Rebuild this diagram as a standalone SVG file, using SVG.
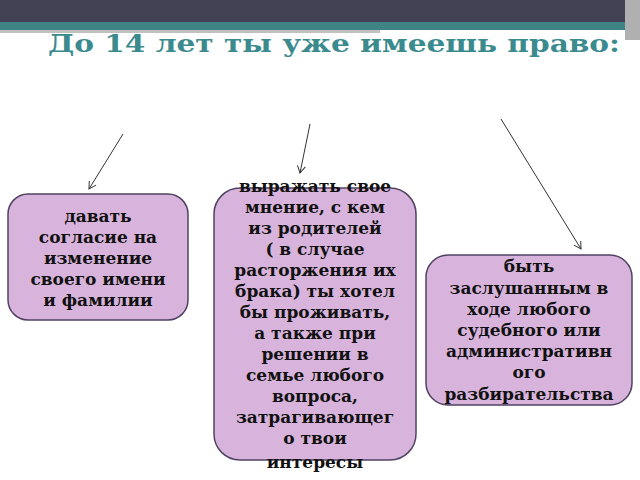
<svg xmlns="http://www.w3.org/2000/svg" width="640" height="480" viewBox="0 0 640 480">
<defs>
<style>
.box{fill:#d8b4dc;stroke:#4f4263;stroke-width:1.5}
.t{font-family:"DejaVu Serif","Liberation Serif",serif;font-weight:bold;font-size:17px;fill:#111;text-anchor:middle}
.c{stroke:#333;stroke-width:1;fill:none}
</style>
<marker id="a" markerWidth="10" markerHeight="10" refX="8" refY="5" orient="auto" markerUnits="userSpaceOnUse"><path d="M1,1 L8,5 L1,9" fill="none" stroke="#333" stroke-width="1"/></marker>
</defs>
<rect width="640" height="480" fill="#fff"/>
<rect x="0" y="0" width="640" height="22" fill="#434255"/>
<rect x="0" y="22" width="640" height="8" fill="#3f8485"/>
<rect x="0" y="30" width="380" height="3" fill="#c0c0c0"/>
<rect x="625" y="0" width="15" height="40" fill="#b0b0b0"/>
<text x="48" y="52" font-family="'DejaVu Serif','Liberation Serif',serif" font-weight="bold" font-size="25" fill="#3a8a8e" textLength="572" lengthAdjust="spacingAndGlyphs">До 14 лет ты  уже имеешь право:</text>
<g id="connectors">
<line class="c" x1="123" y1="134" x2="89" y2="189" marker-end="url(#a)"/>
<line class="c" x1="310" y1="124" x2="300" y2="173" marker-end="url(#a)"/>
<line class="c" x1="501" y1="119" x2="581" y2="249" marker-end="url(#a)"/>
</g>
<g id="n1">
<rect class="box" x="8" y="194" width="180" height="126" rx="20"/>
<text class="t" x="98" y="222">давать</text>
<text class="t" x="98" y="243">согласие на</text>
<text class="t" x="98" y="264">изменение</text>
<text class="t" x="98" y="285">своего имени</text>
<text class="t" x="98" y="306">и фамилии</text>
</g>
<g id="n2">
<rect class="box" x="214" y="188" width="202" height="272" rx="26"/>
<text class="t" x="315" y="192">выражать свое</text>
<text class="t" x="315" y="213">мнение, с кем</text>
<text class="t" x="315" y="234">из родителей</text>
<text class="t" x="315" y="255">( в случае</text>
<text class="t" x="315" y="276">расторжения их</text>
<text class="t" x="315" y="297">брака) ты хотел</text>
<text class="t" x="315" y="318">бы проживать,</text>
<text class="t" x="315" y="339">а также при</text>
<text class="t" x="315" y="360">решении в</text>
<text class="t" x="315" y="381">семье любого</text>
<text class="t" x="315" y="402">вопроса,</text>
<text class="t" x="315" y="423">затрагивающег</text>
<text class="t" x="315" y="444">о твои</text>
<text class="t" x="315" y="468">интересы</text>
</g>
<g id="n3">
<rect class="box" x="426" y="255" width="206" height="150" rx="22"/>
<text class="t" x="529" y="272">быть</text>
<text class="t" x="529" y="294">заслушанным в</text>
<text class="t" x="529" y="315">ходе любого</text>
<text class="t" x="529" y="336">судебного или</text>
<text class="t" x="529" y="357">административн</text>
<text class="t" x="529" y="378">ого</text>
<text class="t" x="529" y="400">разбирательства</text>
</g>
</svg>
